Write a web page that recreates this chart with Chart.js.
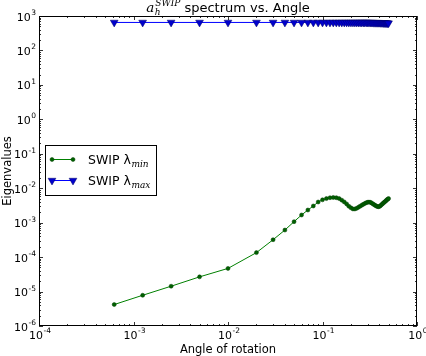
<!DOCTYPE html>
<html>
<head>
<meta charset="utf-8">
<script src="https://cdn.jsdelivr.net/npm/chart.js@4/dist/chart.umd.min.js"></script>
<style>
html,body{margin:0;padding:0;background:#fff;}
#wrap{width:426px;height:356px;position:relative;}
</style>
</head>
<body>
<div id="wrap"><canvas id="c" width="426" height="356"></canvas></div>
<script>
// ---- data ----
const ANGLES = [0.000625, 0.00125, 0.0025, 0.005,
  0.01, 0.02, 0.03, 0.04, 0.05, 0.06, 0.07, 0.08, 0.09, 0.10,
  0.11, 0.12, 0.13, 0.14, 0.15, 0.16, 0.17, 0.18, 0.19, 0.20,
  0.21, 0.22, 0.23, 0.24, 0.25, 0.26, 0.27, 0.28, 0.29, 0.30,
  0.31, 0.32, 0.33, 0.34, 0.35, 0.36, 0.37, 0.38, 0.39, 0.40,
  0.41, 0.42, 0.43, 0.44, 0.45, 0.46, 0.47, 0.48, 0.49, 0.50];
const LAMBDA_MIN = [4.2e-6, 7.8e-6, 1.43e-5, 2.67e-5,
  4.7e-5, 1.35e-4, 3.2e-4, 6.1e-4, 1.07e-3, 1.67e-3, 2.33e-3, 3.05e-3, 3.98e-3, 4.6e-3,
  5.0e-3, 5.3e-3, 5.4e-3, 5.3e-3, 5.0e-3, 4.5e-3, 4.0e-3, 3.5e-3, 3.0e-3, 2.7e-3,
  2.5e-3, 2.5e-3, 2.6e-3, 2.8e-3, 3.0e-3, 3.2e-3, 3.4e-3, 3.6e-3, 3.8e-3, 3.9e-3,
  3.95e-3, 3.9e-3, 3.75e-3, 3.55e-3, 3.35e-3, 3.2e-3, 3.05e-3, 2.95e-3, 2.9e-3, 2.95e-3,
  3.1e-3, 3.3e-3, 3.5e-3, 3.7e-3, 3.9e-3, 4.1e-3, 4.35e-3, 4.6e-3, 4.8e-3, 5.0e-3];
const LAMBDA_MAX = [650, 650, 650, 650,
  650, 650, 650, 650, 650, 650, 650, 650, 650, 650,
  650, 650, 650, 650, 650, 650, 650, 650, 650, 650,
  650, 650, 650, 650, 650, 650, 650, 650, 650, 650,
  645, 645, 645, 645, 640, 640, 640, 640, 640, 640,
  635, 635, 635, 630, 630, 630, 625, 625, 620, 620];
const X_TICK_EXP = [-4, -3, -2, -1, 0];
const Y_TICK_EXP = [-6, -5, -4, -3, -2, -1, 0, 1, 2, 3];
const SERIES_NAMES = ['SWIP \u03BB', 'SWIP \u03BB'];
const SERIES_SUBS = ['min', 'max'];
const TITLE_MAIN = ' spectrum vs. Angle';
const X_LABEL = 'Angle of rotation';
const Y_LABEL = 'Eigenvalues';

const FONT = '"DejaVu Sans", sans-serif';
const SERIF = '"DejaVu Serif", serif';

function drawPow(ctx, x, y, exp, align) {
  const base = '10';
  const e = String(exp);
  ctx.font = '11px ' + FONT;
  const wb = ctx.measureText(base).width;
  ctx.font = '7.5px ' + FONT;
  const we = ctx.measureText(e).width;
  const total = wb + we + 0.5;
  const x0 = align === 'right' ? x - total : x - total / 2;
  ctx.fillStyle = '#000';
  ctx.textAlign = 'left';
  ctx.textBaseline = 'alphabetic';
  ctx.font = '11px ' + FONT;
  ctx.fillText(base, x0, y);
  ctx.font = '7.5px ' + FONT;
  ctx.fillText(e, x0 + wb + 0.5, y - 5.5);
}

const legendPlugin = {
  id: 'legendBox',
  afterDatasetsDraw(chart) {
    const ctx = chart.ctx;
    ctx.save();
    const lx = 45, ly = 145, lw = 111, lh = 50;
    ctx.fillStyle = '#fff';
    ctx.fillRect(lx, ly, lw, lh);
    ctx.strokeStyle = '#000';
    ctx.lineWidth = 1;
    ctx.strokeRect(lx + 0.5, ly + 0.5, lw, lh);
    const rows = [159, 180];
    chart.data.datasets.forEach((ds, i) => {
      const y = rows[i] + 0.5;
      ctx.strokeStyle = ds.borderColor;
      ctx.lineWidth = ds.borderWidth;
      ctx.beginPath();
      ctx.moveTo(52, y); ctx.lineTo(73, y);
      ctx.stroke();
      [52, 73].forEach(mx => {
        ctx.fillStyle = ds.pointBackgroundColor;
        ctx.strokeStyle = ds.pointBorderColor;
        ctx.lineWidth = ds.pointBorderWidth;
        Chart.helpers.drawPoint(ctx, {
          pointStyle: ds.pointStyle, rotation: ds.pointRotation,
          radius: ds.pointRadius, borderWidth: ds.pointBorderWidth
        }, mx, y);
      });
      ctx.fillStyle = '#000';
      ctx.font = '12.5px ' + FONT;
      ctx.textAlign = 'left';
      ctx.textBaseline = 'alphabetic';
      ctx.fillText(SERIES_NAMES[i], 88, rows[i] + 5);
      const wn = ctx.measureText(SERIES_NAMES[i]).width;
      ctx.font = 'italic 9px ' + SERIF;
      ctx.fillText(SERIES_SUBS[i], 88 + wn + 0.5, rows[i] + 8);
    });
    ctx.restore();
  }
};

const decor = {
  id: 'decor',
  afterDraw(chart) {
    const ctx = chart.ctx;
    const a = chart.chartArea;
    const xs = chart.scales.x, ys = chart.scales.y;
    ctx.save();
    ctx.strokeStyle = '#000';
    ctx.lineWidth = 1;
    ctx.strokeRect(Math.round(a.left) + 0.5, Math.round(a.top) + 0.5,
      Math.round(a.right - a.left) - 1, Math.round(a.bottom - a.top) - 1);
    ctx.beginPath();
    X_TICK_EXP.forEach((e, i) => {
      const px = Math.round(xs.getPixelForValue(Math.pow(10, e))) + 0.5;
      ctx.moveTo(px, a.bottom); ctx.lineTo(px, a.bottom - 4);
      ctx.moveTo(px, a.top); ctx.lineTo(px, a.top + 4);
      if (i < X_TICK_EXP.length - 1) {
        for (let m = 2; m <= 9; m++) {
          const mx = Math.round(xs.getPixelForValue(m * Math.pow(10, e))) + 0.5;
          ctx.moveTo(mx, a.bottom); ctx.lineTo(mx, a.bottom - 2);
          ctx.moveTo(mx, a.top); ctx.lineTo(mx, a.top + 2);
        }
      }
    });
    Y_TICK_EXP.forEach((e, i) => {
      const py = Math.round(ys.getPixelForValue(Math.pow(10, e))) + 0.5;
      ctx.moveTo(a.left, py); ctx.lineTo(a.left + 4, py);
      ctx.moveTo(a.right, py); ctx.lineTo(a.right - 4, py);
      if (i < Y_TICK_EXP.length - 1) {
        for (let m = 2; m <= 9; m++) {
          const my = Math.round(ys.getPixelForValue(m * Math.pow(10, e))) + 0.5;
          ctx.moveTo(a.left, my); ctx.lineTo(a.left + 2, my);
          ctx.moveTo(a.right, my); ctx.lineTo(a.right - 2, my);
        }
      }
    });
    ctx.strokeStyle = '#000';
    ctx.lineWidth = 0.8;
    ctx.stroke();
    X_TICK_EXP.forEach(e => {
      const px = xs.getPixelForValue(Math.pow(10, e));
      drawPow(ctx, px + 1, a.bottom + 12.5, e, 'center');
    });
    Y_TICK_EXP.forEach(e => {
      const py = ys.getPixelForValue(Math.pow(10, e));
      drawPow(ctx, a.left - 3, py + 4.5, e, 'right');
    });
    ctx.fillStyle = '#000';
    ctx.font = '11.5px ' + FONT;
    ctx.textAlign = 'center';
    ctx.textBaseline = 'alphabetic';
    ctx.fillText(X_LABEL, (a.left + a.right) / 2, 353);
    ctx.save();
    ctx.translate(11, (a.top + a.bottom) / 2);
    ctx.rotate(-Math.PI / 2);
    ctx.textAlign = 'center';
    ctx.fillText(Y_LABEL, 0, 0);
    ctx.restore();
    // title
    const cx = (a.left + a.right) / 2;
    const by = 12;
    ctx.textAlign = 'left';
    ctx.font = 'italic 13.5px ' + SERIF;
    const wa = ctx.measureText('a').width;
    ctx.font = 'italic 9px ' + SERIF;
    const wsup = ctx.measureText('SWIP').width;
    ctx.font = '13px ' + FONT;
    const wm = ctx.measureText(TITLE_MAIN).width;
    const tw = wa + 1 + wsup + wm;
    const tx = cx - tw / 2;
    ctx.fillStyle = '#000';
    ctx.font = 'italic 13.5px ' + SERIF;
    ctx.fillText('a', tx, by);
    ctx.font = 'italic 9px ' + SERIF;
    ctx.fillText('h', tx + wa + 0.5, by + 3);
    ctx.fillText('SWIP', tx + wa + 1, by - 6);
    ctx.font = '13px ' + FONT;
    ctx.fillText(TITLE_MAIN, tx + wa + 1 + wsup, by);
    ctx.restore();
  }
};

const chart = new Chart(document.getElementById('c'), {
  type: 'line',
  data: {
    datasets: [
      {
        label: 'SWIP lambda_min',
        data: ANGLES.map((x, i) => ({ x: x, y: LAMBDA_MIN[i] })),
        borderColor: '#008000',
        borderWidth: 1,
        pointStyle: 'circle',
        pointRadius: 2,
        pointRotation: 0,
        pointBackgroundColor: '#006000',
        pointBorderColor: '#004000',
        pointBorderWidth: 0.5,
        tension: 0
      },
      {
        label: 'SWIP lambda_max',
        data: ANGLES.map((x, i) => ({ x: x, y: LAMBDA_MAX[i] })),
        borderColor: '#0000ff',
        borderWidth: 1,
        pointStyle: 'triangle',
        pointRadius: 4.5,
        pointRotation: 180,
        pointBackgroundColor: '#0000cc',
        pointBorderColor: '#000066',
        pointBorderWidth: 0.5,
        tension: 0
      }
    ]
  },
  options: {
    responsive: false,
    animation: false,
    events: [],
    layout: { padding: { top: 16, right: 9, left: 0, bottom: 0 } },
    plugins: { legend: { display: false }, tooltip: { enabled: false }, title: { display: false } },
    scales: {
      x: {
        type: 'logarithmic', min: 1e-4, max: 1,
        grid: { display: false }, border: { display: false },
        ticks: { display: false },
        afterFit(s) { s.height = 30; }
      },
      y: {
        type: 'logarithmic', min: 1e-6, max: 1e3,
        grid: { display: false }, border: { display: false },
        ticks: { display: false },
        afterFit(s) { s.width = 39; }
      }
    }
  },
  plugins: [legendPlugin, decor]
});
</script>
</body>
</html>
